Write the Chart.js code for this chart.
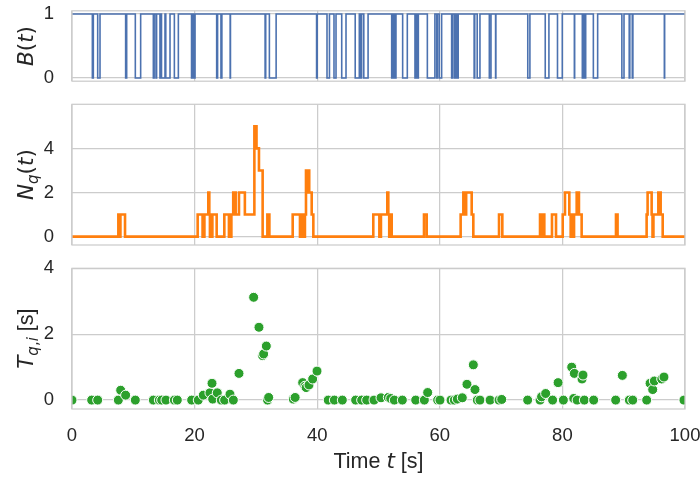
<!DOCTYPE html>
<html>
<head>
<meta charset="utf-8">
<title>Queue simulation</title>
<script src="https://cdn.jsdelivr.net/npm/chart.js@4.4.0/dist/chart.umd.min.js"></script>
<style>
  html, body { margin: 0; padding: 0; background: #fff; }
  #wrap { position: relative; width: 700px; height: 477px; }
  #wrap canvas { position: absolute; left: 0; top: 0; width: 700px; height: 477px; }
</style>
</head>
<body>
<div id="wrap">
  <canvas id="c-busy" width="700" height="477"></canvas>
  <canvas id="c-queue" width="700" height="477"></canvas>
  <canvas id="c-wait" width="700" height="477"></canvas>
</div>
<script>
/* global Chart */

// shared time axis
const timeTicks = [0, 20, 40, 60, 80, 100];

// B(t): server busy indicator, drops to 0 over each idle interval
const idleStart = [
  3.32, 4.19, 8.75, 10.33, 13.27, 13.7, 14.35, 14.6, 15.3, 16.7,
  19.5, 19.85, 23.6, 24.3, 25.8, 31.5, 32.2, 39.9, 41.6, 42.74,
  44.0, 46.2, 47.0, 47.6, 52.15, 52.6, 53.94, 55.95, 56.35, 57.97,
  59.5, 59.9, 61.93, 62.4, 62.8, 65.6, 66.1, 68.08, 69.1, 74.35,
  77.2, 79.2, 81.95, 83.25, 83.45, 83.65, 85.05, 89.7, 90.9, 91.4,
  96.63,
];
const idleEnd = [
  3.48, 4.57, 8.92, 11.2, 13.4, 13.8, 14.45, 15.17, 15.99, 17.35,
  19.6, 20.07, 23.75, 24.45, 25.85, 31.6, 33.3, 40.0, 42.0, 43.07,
  44.7, 46.87, 47.25, 48.3, 52.4, 52.85, 54.7, 56.1, 56.5, 59.2,
  59.6, 60.3, 62.1, 62.6, 63.0, 65.7, 66.55, 68.35, 69.15, 74.7,
  77.8, 79.98, 82.0, 83.35, 83.55, 83.8, 85.75, 90.05, 91.0, 91.5,
  96.68,
];
const busyTicks = [0, 1];

// N_q(t): queue length, value holds from each switch time to the next
const queueT = [
  0, 7.56, 7.75, 7.9, 8.65,
  20.5, 21.3, 21.6, 22.24, 22.4, 22.5, 22.65, 22.75, 22.9, 23.6,
  24.85, 25.6, 26.0, 26.3, 26.7, 27.24, 28.2, 29.75, 30.1, 30.5, 31.1, 31.87, 32.2,
  36.0, 37.19, 37.5, 37.74, 38.0, 38.17, 38.45, 38.55, 38.7, 39.1, 39.37,
  49.15, 50.14, 50.4, 51.44, 51.6, 51.75, 51.85, 52.15,
  57.42, 57.86,
  63.4, 63.84, 64.1, 64.3, 65.2, 65.47,
  69.66, 70.2,
  76.35, 76.6, 76.75, 77.05, 78.3, 78.96,
  80.05, 80.42, 81.13, 81.35, 81.5, 81.78, 81.9, 82.33, 82.7, 83.14,
  88.74, 89.0,
  93.74, 93.9, 94.56, 94.7, 94.85, 95.65, 96.03, 96.36,
  100,
];
const queueN = [
  0, 1, 0, 1, 0,
  1, 0, 1, 2, 1, 0, 1, 0, 1, 0,
  1, 0, 1, 2, 1, 2, 1, 5, 4, 3, 0, 1, 0,
  1, 0, 1, 0, 1, 3, 2, 3, 2, 1, 0,
  1, 0, 1, 2, 1, 0, 1, 0,
  1, 0,
  1, 2, 1, 2, 1, 0,
  1, 0,
  1, 0, 1, 0, 1, 0,
  1, 2, 1, 0, 1, 0, 1, 2, 1, 0,
  1, 0,
  1, 2, 1, 0, 1, 2, 1, 0,
  0,
];
const queueTicks = [0, 2, 4];

// T_q,i: waiting time of each customer, plotted at its arrival time
const waitT = [
  0.0, 3.21, 4.19, 7.56, 7.94, 8.75, 10.33, 13.27, 14.25, 14.63,
  15.33, 16.7, 17.18, 19.52, 20.6, 21.42, 22.5, 22.84, 22.95, 23.7,
  24.36, 24.9, 25.77, 26.32, 27.24, 29.63, 30.5, 31.1, 31.26, 31.7,
  31.9, 32.08, 36.1, 36.4, 37.63, 38.0, 38.2, 38.66, 39.26, 39.97,
  41.8, 42.8, 44.1, 46.27, 47.25, 48.07, 49.27, 50.41, 51.6, 51.99,
  52.58, 53.89, 56.07, 57.48, 58.02, 59.65, 60.03, 61.83, 62.37, 62.86,
  63.67, 64.43, 65.47, 65.74, 66.12, 66.55, 68.2, 69.66, 70.1, 74.33,
  76.35, 76.6, 77.27, 78.4, 79.3, 80.16, 81.52, 81.95, 81.85, 82.4,
  83.2, 83.36, 83.58, 85.1, 88.69, 89.78, 90.92, 91.47, 93.75, 94.3,
  94.73, 95.0, 96.2, 96.57, 99.83,
];
const waitV = [
  0, 0, 0, 0, 0.30, 0.15, 0, 0, 0, 0,
  0, 0, 0, 0, 0, 0.15, 0.22, 0.51, 0.03, 0.22,
  0, 0, 0.18, 0, 0.81, 3.12, 2.21, 1.35, 1.40, 1.64,
  0, 0.08, 0.03, 0.08, 0.53, 0.42, 0.38, 0.46, 0.64, 0.88,
  0, 0, 0, 0, 0, 0, 0, 0.07, 0.08, 0.05,
  0, 0, 0, 0, 0.23, 0, 0, 0, 0, 0.03,
  0.07, 0.48, 1.07, 0.32, 0, 0, 0, 0, 0.02, 0,
  0, 0.1, 0.2, 0, 0.53, 0, 1.0, 0.81, 0.05, 0,
  0.64, 0.76, 0, 0, 0, 0.75, 0, 0, 0, 0.51,
  0.32, 0.58, 0.64, 0.70, 0,
];
const waitTicks = [0, 2, 4];

const W = 700;
const H = 477;
const PLOT_LEFT = 72;
const PLOT_RIGHT = 685;
const GRID = "#cccccc";
const INK = "#262626";
const SANS = '"Liberation Sans", Arial, sans-serif';
const MATH = '"DejaVu Sans", sans-serif';
const TICK_SIZE = 18.5;
const LABEL_SIZE = 21.5;

function runFont(run, size) {
  const s = run.sub ? size * 0.7 : size;
  if (run.plain) return `${s}px ${SANS}`;
  return `${run.it ? "italic " : ""}${s}px ${MATH}`;
}

// mixed roman / math-italic text, centred on (x, y) along its baseline
function drawRuns(ctx, runs, x, y, rotated) {
  ctx.save();
  ctx.translate(x, y);
  if (rotated) ctx.rotate(-Math.PI / 2);
  ctx.fillStyle = INK;
  ctx.textBaseline = "alphabetic";
  ctx.textAlign = "left";
  const widths = runs.map((r) => {
    ctx.font = runFont(r, LABEL_SIZE);
    return ctx.measureText(r.t).width;
  });
  let cx = -widths.reduce((a, b) => a + b, 0) / 2;
  runs.forEach((r, i) => {
    ctx.font = runFont(r, LABEL_SIZE);
    ctx.fillText(r.t, cx, r.sub ? LABEL_SIZE * 0.22 : 0);
    cx += widths[i];
  });
  ctx.restore();
}

const framePlugin = {
  id: "frame",
  afterDatasetsDraw(chart) {
    const { ctx, chartArea: a } = chart;
    ctx.save();
    ctx.strokeStyle = GRID;
    ctx.lineWidth = 1.25;
    ctx.strokeRect(a.left, a.top, a.right - a.left, a.bottom - a.top);
    ctx.restore();
  },
};

function labelPlugin(labels) {
  return {
    id: "axisLabels",
    afterDraw(chart) {
      labels.forEach((l) => drawRuns(chart.ctx, l.runs, l.x, l.y, l.rotated));
    },
  };
}

function panel(canvasId, type, top, bottom, yMin, yMax, yTicks, dataset, labels, showX) {
  return new Chart(document.getElementById(canvasId), {
    type,
    data: { datasets: [dataset] },
    options: {
      responsive: false,
      animation: false,
      events: [],
      layout: {
        padding: { left: 0, right: W - PLOT_RIGHT, top, bottom: showX ? 0 : H - bottom },
      },
      plugins: { legend: { display: false }, tooltip: { enabled: false } },
      scales: {
        x: {
          type: "linear",
          min: 0,
          max: 100,
          afterBuildTicks: (s) => {
            s.ticks = timeTicks.map((v) => ({ value: v }));
          },
          afterFit: (s) => {
            s.height = showX ? H - bottom : 0;
            s.paddingLeft = 0;
            s.paddingRight = 0;
          },
          border: { display: false },
          grid: { color: GRID, lineWidth: 1.25, drawTicks: false },
          ticks: {
            display: showX,
            color: INK,
            padding: 15.5,
            maxRotation: 0,
            font: { family: SANS, size: TICK_SIZE },
          },
        },
        y: {
          type: "linear",
          min: yMin,
          max: yMax,
          afterBuildTicks: (s) => {
            s.ticks = yTicks.map((v) => ({ value: v }));
          },
          afterFit: (s) => {
            s.width = PLOT_LEFT;
            s.paddingTop = 0;
            s.paddingBottom = 0;
          },
          border: { display: false },
          grid: { color: GRID, lineWidth: 1.25, drawTicks: false },
          ticks: {
            color: INK,
            padding: 18,
            font: { family: SANS, size: TICK_SIZE },
          },
        },
      },
    },
    plugins: [framePlugin, labelPlugin(labels)],
  });
}

// step points: hold the previous level up to each switch time
const busyPoints = [{ x: 0, y: 1 }];
idleStart.forEach((t, i) => {
  busyPoints.push({ x: t, y: 0 }, { x: idleEnd[i], y: 1 });
});
busyPoints.push({ x: 100, y: 1 });

const queuePoints = queueT.map((t, i) => ({ x: t, y: queueN[i] }));
const waitPoints = waitT.map((t, i) => ({ x: t, y: waitV[i] }));

panel("c-busy", "line", 10.8, 81.2, -0.05, 1.05, busyTicks, {
  data: busyPoints,
  stepped: true,
  borderColor: "#4c72b0",
  borderWidth: 1.6,
  pointRadius: 0,
  fill: false,
}, [
  { runs: [{ t: "B", it: true }, { t: "(" }, { t: "t", it: true }, { t: ")" }], x: 33, y: 46, rotated: true },
], false);

panel("c-queue", "line", 104.3, 245, -0.38, 6.0, queueTicks, {
  data: queuePoints,
  stepped: true,
  borderColor: "#ff7f0e",
  borderWidth: 2.6,
  pointRadius: 0,
  fill: false,
}, [
  { runs: [{ t: "N", it: true }, { t: "q", it: true, sub: true }, { t: "(" }, { t: "t", it: true }, { t: ")" }], x: 33, y: 174.6, rotated: true },
], false);

panel("c-wait", "scatter", 268.3, 409, -0.27, 4.0, waitTicks, {
  data: waitPoints,
  showLine: false,
  pointRadius: 5,
  pointBackgroundColor: "#2ca02c",
  pointBorderColor: "#ffffff",
  pointBorderWidth: 1,
  clip: 0,
}, [
  {
    runs: [
      { t: "T", it: true },
      { t: "q", it: true, sub: true },
      { t: ",", sub: true },
      { t: "i", it: true, sub: true },
      { t: " [s]", plain: true },
    ],
    x: 33,
    y: 338.6,
    rotated: true,
  },
  {
    runs: [{ t: "Time ", plain: true }, { t: "t", it: true }, { t: " [s]", plain: true }],
    x: (PLOT_LEFT + PLOT_RIGHT) / 2,
    y: 468,
    rotated: false,
  },
], true);
</script>
</body>
</html>
